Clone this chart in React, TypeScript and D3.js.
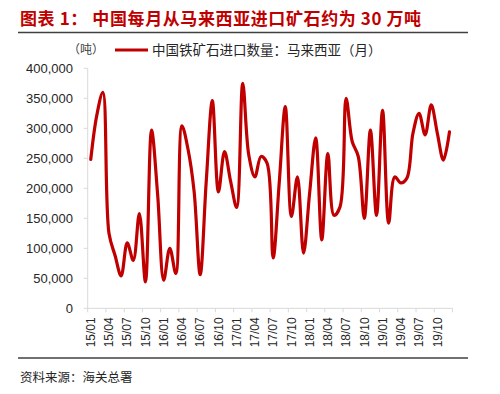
import React from 'react';
import * as d3 from 'd3';

const months = [
  '15/01', '15/02', '15/03', '15/04', '15/05', '15/06', '15/07', '15/08', '15/09', '15/10', '15/11', '15/12',
  '16/01', '16/02', '16/03', '16/04', '16/05', '16/06', '16/07', '16/08', '16/09', '16/10', '16/11', '16/12',
  '17/01', '17/02', '17/03', '17/04', '17/05', '17/06', '17/07', '17/08', '17/09', '17/10', '17/11', '17/12',
  '18/01', '18/02', '18/03', '18/04', '18/05', '18/06', '18/07', '18/08', '18/09', '18/10', '18/11', '18/12',
  '19/01', '19/02', '19/03', '19/04', '19/05', '19/06', '19/07', '19/08', '19/09', '19/10', '19/11', '19/12',
];

// 中国铁矿石进口数量：马来西亚（月），吨
const imports = [
  248000, 322000, 360000, 125000, 88000, 54000, 109000, 80000, 158000, 44000, 297000, 190000,
  47000, 100000, 58000, 304000, 265000, 195000, 56000, 212000, 346000, 194000, 261000, 212000,
  168000, 375000, 255000, 219000, 253000, 242000, 84000, 209000, 336000, 153000, 219000, 92000,
  192000, 284000, 114000, 258000, 155000, 169000, 350000, 278000, 253000, 150000, 297000, 155000,
  330000, 142000, 219000, 209000, 217000, 292000, 325000, 289000, 339000, 292000, 247000, 294000,
];

const xTickLabels = [
  '15/01', '15/04', '15/07', '15/10', '16/01', '16/04', '16/07', '16/10', '17/01', '17/04',
  '17/07', '17/10', '18/01', '18/04', '18/07', '18/10', '19/01', '19/04', '19/07', '19/10',
];

const yTicks = [0, 50000, 100000, 150000, 200000, 250000, 300000, 350000, 400000];

const title = '图表 1：  中国每月从马来西亚进口矿石约为 30 万吨';
const legendLabel = '中国铁矿石进口数量：马来西亚（月）';
const unitLabel = '（吨）';
const sourceLabel = '资料来源：海关总署';

const App = () => {
  const width = 500;
  const height = 394;
  const plot = { left: 87.7, right: 452.5, top: 68.3, bottom: 308.3 };

  const x = d3.scalePoint<string>()
    .domain(months)
    .range([plot.left, plot.right])
    .padding(0.5);
  const step = x.step();

  const y = d3.scaleLinear()
    .domain([0, 400000])
    .range([plot.bottom, plot.top]);

  const line = d3.line<number>()
    .x((_, i) => x(months[i]) as number)
    .y(d => y(d))
    .curve(d3.curveCatmullRom.alpha(0.5));

  // tick marks between categories, every 3 months
  const tickMarks = d3.range(0, months.length + 1, 3).map(i => plot.left + i * step);

  const fmt = d3.format(',');
  const axisColor = '#d9d9d9';
  const lineColor = '#c00000';
  const cjk = "'Noto Sans CJK SC', sans-serif";

  return (
    <svg width={width} height={height} style={{ position: 'absolute', left: 0, top: 0, background: '#fff' }}>
      {/* title */}
      <text x={20} y={25} fill={lineColor} fontSize={17} fontWeight="bold" letterSpacing={0.6}
        fontFamily={cjk}>{title}</text>
      <line x1={18} x2={468} y1={32.5} y2={32.5} stroke="#404040" strokeWidth={1.5} />

      {/* unit + legend */}
      <text x={68} y={54} fill="#404040" fontSize={12} fontFamily={cjk}>{unitLabel}</text>
      <line x1={115} x2={148} y1={50} y2={50} stroke={lineColor} strokeWidth={3} />
      <text x={152} y={55} fill="#262626" fontSize={13.5} fontFamily={cjk}>{legendLabel}</text>

      {/* y axis */}
      <line x1={plot.left} x2={plot.left} y1={plot.top} y2={plot.bottom} stroke={axisColor} />
      {yTicks.map(t => (
        <g key={t}>
          <line x1={plot.left - 4} x2={plot.left} y1={y(t)} y2={y(t)} stroke={axisColor} />
          <text x={73} y={y(t)} dy="0.35em" textAnchor="end" fill="#262626" fontSize={13}
            fontFamily="'Liberation Sans', Arial, sans-serif">{fmt(t)}</text>
        </g>
      ))}

      {/* x axis */}
      <line x1={plot.left} x2={plot.right} y1={plot.bottom} y2={plot.bottom} stroke={axisColor} />
      {tickMarks.map(tx => (
        <line key={tx} x1={tx} x2={tx} y1={plot.bottom} y2={plot.bottom + 4} stroke={axisColor} />
      ))}
      {xTickLabels.map(l => (
        <text key={l} transform={`translate(${x(l)},${plot.bottom + 9}) rotate(-90)`}
          dy="0.35em" textAnchor="end" fill="#262626" fontSize={12}
          fontFamily="'Liberation Sans', Arial, sans-serif">{l}</text>
      ))}

      {/* series */}
      <path d={line(imports) ?? ''} fill="none" stroke={lineColor} strokeWidth={3.2}
        strokeLinejoin="round" strokeLinecap="round" />

      {/* footer */}
      <line x1={18} x2={468} y1={358} y2={358} stroke="#404040" strokeWidth={1.5} />
      <text x={20} y={382} fill="#262626" fontSize={12.5} fontFamily={cjk}>{sourceLabel}</text>
    </svg>
  );
};

export default App;
